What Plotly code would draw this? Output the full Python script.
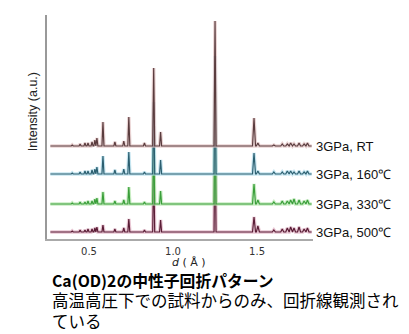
import plotly.graph_objects as go

# ---- data ----
labels = ["3GPa, 500℃", "3GPa, 330℃", "3GPa, 160℃", "3GPa, RT"]
baselines = [7, 35, 65, 93]          # offsets of each pattern (a.u.)
peak_d = [0.40, 0.447, 0.476, 0.494, 0.518, 0.535, 0.547, 0.583, 0.654, 0.707,
          0.737, 0.83, 0.885, 0.926, 1.25, 1.482, 1.505, 1.60, 1.65, 1.68, 1.70,
          1.72, 1.75, 1.78, 1.80]
h_500 = [1, 2, 2, 3, 3, 4, 5, 7, 3, 4, 13, 2, 64, 12, 108, 15, 6, 2, 3, 4, 5, 4, 5, 3, 4]
h_330 = [1, 2, 2, 3, 3, 5, 6, 12, 3, 4, 17, 2, 68, 13, 112, 20, 4, 2, 3, 3, 4, 5, 4, 3, 4]
h_160 = [1, 2, 3, 3, 4, 5, 7, 18, 4, 5, 22, 2, 72, 14, 118, 21, 3, 2, 2, 3, 3, 2, 3, 2, 3]
h_rt = [1, 2, 3, 3, 4, 6, 8, 24, 4, 5, 29, 3, 78, 14, 125, 28, 3, 1, 2, 2, 3, 2, 3, 2, 3]
heights = [h_500, h_330, h_160, h_rt]
line_colors = ["#5a1d36", "#3a9e3a", "#2c5f70", "#5a3c3e"]
halo_colors = ["#e0b0c2", "#b2e6aa", "#b0dcec", "#e2c2c2"]
d_start, d_end = 0.27, 1.825
x_ticks = [0.5, 1.0, 1.5]
x_tick_text = ["0.5", "1.0", "1.5"]
caption_title = "Ca(OD)2の中性子回折パターン"
caption_lines = ["高温高圧下での試料からのみ、回折線観測され", "ている"]


def pattern(base, hs):
    xs, ys = [d_start], [base]
    for d, h in zip(peak_d, hs):
        w = 0.006 if d < 1.3 else 0.009
        xs += [d - w, d, d + w]
        ys += [base, base + h, base]
    xs.append(d_end)
    ys.append(base)
    return xs, ys


fig = go.Figure()
for base, hs, lc, hc in zip(baselines, heights, line_colors, halo_colors):
    xs, ys = pattern(base, hs)
    fig.add_trace(go.Scatter(x=xs, y=ys, mode="lines", line=dict(color=hc, width=3.5),
                             opacity=0.7, hoverinfo="skip", showlegend=False))
    fig.add_trace(go.Scatter(x=xs, y=ys, mode="lines", line=dict(color=lc, width=1.2),
                             hoverinfo="skip", showlegend=False))

for lab, base in zip(labels, baselines):
    fig.add_annotation(x=1.003, xref="paper", y=base, yref="y", text=lab, showarrow=False,
                       xanchor="left", yanchor="middle",
                       font=dict(family="Liberation Sans, Arial", size=13, color="#111"))

fig.add_annotation(x=-0.053, xref="paper", y=0.57, yref="paper", text="Intensity (a.u.)",
                   showarrow=False, textangle=-90, xanchor="center", yanchor="middle",
                   font=dict(family="Liberation Sans, Arial", size=12.5, color="#222"))
fig.add_annotation(x=0.534, xref="paper", y=-0.107, yref="paper", text="<i>d</i> ( Å )",
                   showarrow=False, xanchor="center", yanchor="middle",
                   font=dict(family="DejaVu Sans", size=11, color="#222"))
fig.add_annotation(x=0.011, xref="paper", y=-0.186, yref="paper",
                   text="<b>" + caption_title + "</b>", showarrow=False,
                   xanchor="left", yanchor="middle",
                   font=dict(family="Noto Sans CJK JP", size=15.8, color="#000"))
fig.add_annotation(x=0.011, xref="paper", y=-0.318, yref="paper",
                   text="<br>".join(caption_lines), showarrow=False,
                   xanchor="left", yanchor="middle", align="left",
                   font=dict(family="Noto Sans CJK JP", size=16.5, color="#000"))

# page body has an 8px margin, so the figure is 8px smaller and shifted
fig.update_layout(
    width=401, height=326,
    margin=dict(l=39, r=96, t=7, b=95),
    paper_bgcolor="white", plot_bgcolor="white",
    xaxis=dict(range=[0.25, 1.833], tickvals=x_ticks, ticktext=x_tick_text,
               showline=True, linecolor="#aaaaaa", linewidth=1.5, showgrid=False,
               zeroline=False, ticks="", ticklabelstandoff=2,
               tickfont=dict(family="DejaVu Sans", size=10, color="#333")),
    yaxis=dict(range=[0, 224], showline=True, linecolor="#999999", linewidth=1.5,
               showgrid=False, zeroline=False, showticklabels=False, ticks=""),
)
fig.write_html("out.html")
